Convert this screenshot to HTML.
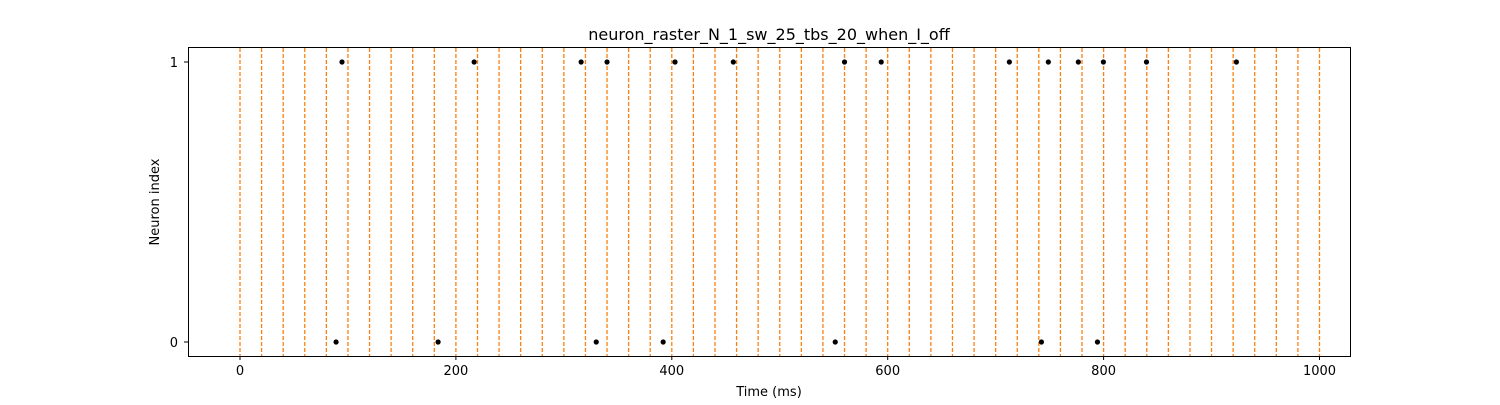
<!DOCTYPE html>
<html><head><meta charset="utf-8"><style>
body{margin:0;background:#fff;}
svg text{font-family:"DejaVu Sans","Liberation Sans",sans-serif;fill:#000;}
</style></head><body>
<svg id="chart" width="1500" height="400" xmlns="http://www.w3.org/2000/svg">
<rect width="1500" height="400" fill="#fff"/>
<text x="769" y="40" font-size="16" text-anchor="middle">neuron_raster_N_1_sw_25_tbs_20_when_I_off</text>
<g id="lines"></g><g id="dots"></g><g id="axes"></g>
<rect x="188.5" y="47.5" width="1162" height="309" fill="none" stroke="#000" stroke-width="1"/>
<text x="769" y="396" font-size="13" text-anchor="middle">Time (ms)</text>
<text x="159" y="202" font-size="13" text-anchor="middle" transform="rotate(-90 159 202)">Neuron index</text>
</svg>
<script>
const neuron1Spikes=[94.5,216.9,316,340,403,457,560,594,712.7,748.8,776.6,799.8,839.7,923];
const neuron0Spikes=[89,183.5,330,392,551.4,742.4,794.3];
const xTicks=[0,200,400,600,800,1000];
const yTicks=[0,1];
const windowStep=20, windowEnd=1000;
const NS="http://www.w3.org/2000/svg";
const xs=v=>240+v*1.0795;
const ys=v=>342-v*280;
function mk(tag,attrs,parent){const e=document.createElementNS(NS,tag);for(const k in attrs)e.setAttribute(k,attrs[k]);document.getElementById(parent).appendChild(e);return e;}
for(let t=0;t<=windowEnd;t+=windowStep){
  const l=mk('line',{x1:xs(t),x2:xs(t),y1:48,y2:356,stroke:'#ff7f0e','stroke-width':1.3,'stroke-dasharray':'4,2'},'lines');
  
  
}
[[neuron0Spikes,0],[neuron1Spikes,1]].forEach(([arr,n])=>arr.forEach(v=>{
  const c=mk('circle',{cx:xs(v),cy:ys(n),r:2.6,fill:'#000'},'dots');
  
  
}));
xTicks.forEach(v=>{
  const l=mk('line',{x1:xs(v),x2:xs(v),y1:356,y2:360,stroke:'#000'},'axes');
  
  
  const t=mk('text',{x:xs(v),y:375,'font-size':13,'text-anchor':'middle'},'axes');
  t.textContent=v;
  
  
});
yTicks.forEach(v=>{
  const l=mk('line',{x1:184,x2:188,y1:ys(v),y2:ys(v),stroke:'#000'},'axes');
  
  
  const t=mk('text',{x:178,y:ys(v)+5,'font-size':13,'text-anchor':'end'},'axes');
  t.textContent=v;
  
  
});
</script>
</body></html>
